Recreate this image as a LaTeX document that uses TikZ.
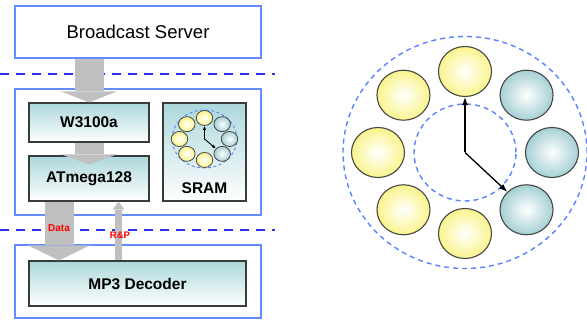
\documentclass[tikz,border=0pt]{standalone}
\usepackage{fontspec}
\setmainfont{Liberation Sans}
\usepackage{tikz}
\usetikzlibrary{arrows.meta,shapes.geometric,positioning,calc}
\usepackage{xcolor}
\definecolor{frameblue}{RGB}{100,140,255}
\definecolor{busblue}{RGB}{40,50,230}
\definecolor{ringblue}{RGB}{90,130,255}
\definecolor{chipteal}{RGB}{172,216,219}
\definecolor{chipedge}{RGB}{55,60,60}
\definecolor{flowgray}{RGB}{192,192,192}
\definecolor{slotyellow}{RGB}{250,244,140}
\definecolor{slotteal}{RGB}{165,208,212}
\definecolor{slotedge}{RGB}{70,70,70}
\definecolor{tagred}{RGB}{250,0,0}
\tikzstyle{panel} = [rectangle, draw=frameblue, line width=1.1pt, fill=white, inner sep=0pt]
\tikzstyle{chip} = [rectangle, draw=chipedge, line width=1.2pt, top color=chipteal, bottom color=white, inner sep=0pt, font=\bfseries\fontsize{15.5}{17}\selectfont]
\tikzstyle{bus} = [busblue, line width=1.8pt, dash pattern=on 9pt off 7pt]
\tikzstyle{flow} = [flowgray, line width=29pt]
\tikzstyle{slot} = [ellipse, draw=slotedge, line width=1.1pt, inner sep=0pt, inner color=white]
\tikzstyle{track} = [ringblue, line width=1.4pt, dash pattern=on 5pt off 4pt]
\tikzstyle{hand} = [line width=1.3pt, -{Latex[length=8pt,width=6pt]}]
\tikzstyle{tag} = [text=tagred, inner sep=0pt, font=\bfseries\fontsize{10}{11}\selectfont]

\begin{document}
\begin{tikzpicture}[x=1pt, y=-1pt]
\useasboundingbox (0,0) rectangle (587,320);
% layer panels
\node[panel, minimum width=246pt, minimum height=52pt] (server) at (138,32) {\fontsize{18.5}{20}\selectfont Broadcast Server};
\node[panel, minimum width=246pt, minimum height=126pt] (board) at (138,152) {};
\node[panel, minimum width=246pt, minimum height=73pt] (player) at (138,281.5) {};

\coordinate (busA) at (0,74);
\coordinate (busB) at (275,74);
\coordinate (busC) at (0,230);
\coordinate (busD) at (275,230);
\draw[bus] (busA) -- (busB);
\draw[bus] (busC) -- (busD);

% chips
\node[chip, minimum width=120pt, minimum height=39pt] (w3100) at (89,122.5) {W3100a};
\node[chip, minimum width=120pt, minimum height=45pt] (atmega) at (89,178.5) {ATmega128};
\node[chip, minimum width=83pt, minimum height=98pt] (sram) at (204.5,152) {};
\node[above=7.5pt of sram.south, inner sep=0pt, font=\bfseries\fontsize{15.5}{17}\selectfont] (sramtxt) {SRAM};
\node[chip, minimum width=217pt, minimum height=45pt] (mp3) at (137.5,283.5) {MP3 Decoder};

% data flow
\draw[flow, -{Triangle[width=56pt,length=11pt,line width=0pt]}] (w3100.north |- server.south) -- (w3100.north);
\draw[flow, -{Triangle[width=56pt,length=10pt,line width=0pt]}] (w3100.south) -- ($(atmega.north)+(0,9)$);
\coordinate (dataTop) at ($(atmega.south)+(-30,0)$);
\coordinate (dataEnd) at (dataTop |- mp3.north);
\draw[flow, -{Triangle[width=62pt,length=15pt,line width=0pt]}] (dataTop) -- (dataEnd) node[tag, pos=0.45] {Data};
\coordinate (rpTop) at ($(atmega.south)+(29.5,0)$);
\coordinate (rpFoot) at (rpTop |- mp3.north);
\draw[flowgray, line width=7pt, -{Triangle[width=12pt,length=8pt,line width=0pt]}] (rpFoot) -- (rpTop) node[tag, pos=0.42, xshift=1.5pt, font=\bfseries\fontsize{9.5}{10}\selectfont] {R\&P};

% small buffer ring
\coordinate (minihub) at (204.5,139);
\draw[track, line width=0.9pt, dash pattern=on 3pt off 2.5pt] (minihub) ellipse [x radius=32.5pt, y radius=29pt];
\foreach \ang/\col [count=\i] in {90/slotyellow,45/slotteal,0/slotteal,-45/slotteal,-90/slotyellow,-135/slotyellow,180/slotyellow,135/slotyellow}
  \node[slot, outer color=\col, line width=0.8pt, minimum width=16.5pt, minimum height=15pt] (mini\i) at ($(minihub)+(\ang:25pt and 21pt)$) {};
\draw[line width=0.9pt, -{Latex[length=4pt,width=3.5pt]}] (minihub) -- (mini1);
\draw[line width=0.9pt, -{Latex[length=4pt,width=3.5pt]}] (minihub) -- (mini4);

% buffer ring
\coordinate (hub) at (465,152.5);
\draw[track] (hub) ellipse [x radius=122pt, y radius=116pt];
\draw[track] (hub) ellipse [x radius=51pt, y radius=48.5pt];
\foreach \ang/\col [count=\i] in {90/slotyellow,45/slotteal,0/slotteal,-45/slotteal,-90/slotyellow,-135/slotyellow,180/slotyellow,135/slotyellow}
  \node[slot, outer color=\col, minimum width=53pt, minimum height=50pt] (big\i) at ($(hub)+(\ang:87pt and 81pt)$) {};
\draw[hand] (hub) -- (big1);
\draw[hand] (hub) -- (big4);
\end{tikzpicture}
\end{document}
